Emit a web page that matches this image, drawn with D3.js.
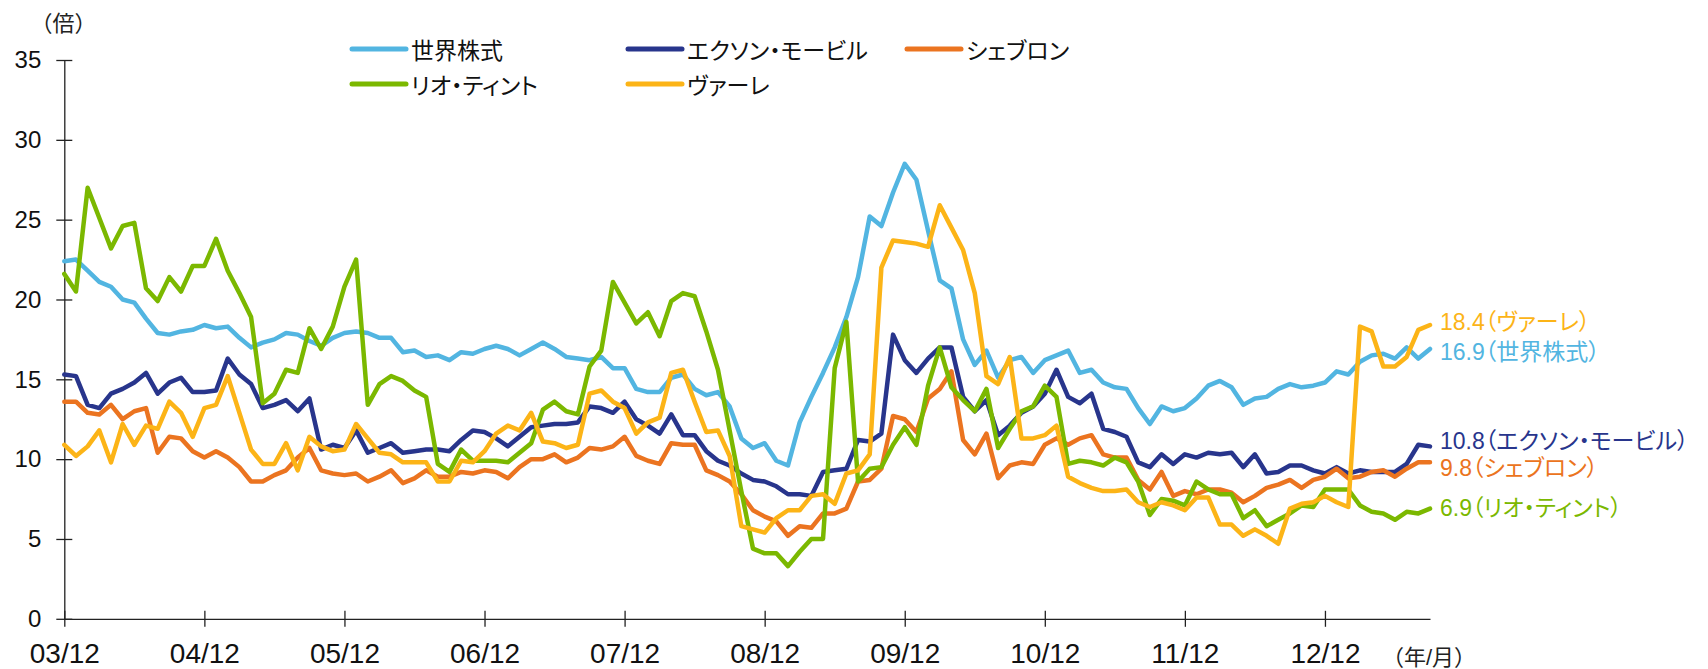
<!DOCTYPE html>
<html><head><meta charset="utf-8">
<script src="https://cdn.jsdelivr.net/npm/d3@7/dist/d3.min.js"></script>
<style>
html,body{margin:0;padding:0;background:#fff;}
svg text{font-family:"Liberation Sans",Arial,"Noto Sans CJK JP",sans-serif;}
.jp{font-feature-settings:"palt";font-family:"Liberation Sans","Noto Sans CJK JP",sans-serif;}
.jpw{font-family:"Liberation Sans","Noto Sans CJK JP",sans-serif;}
</style></head><body>
<svg id="chart" width="1708" height="669"></svg>
<script>
// ---- data (monthly, 2003/12 – 2013/09) ----
const startYear = 2003, startMonth = 12, nMonths = 118;
const tickLabels = ["03/12","04/12","05/12","06/12","07/12","08/12","09/12","10/12","11/12","12/12"];
const yTicks = [0,5,10,15,20,25,30,35];

const world = [22.4,22.5,21.8,21.1,20.8,20.0,19.8,18.8,17.9,17.8,18.0,18.1,18.4,18.2,18.3,17.6,17.0,17.3,17.5,17.9,17.8,17.4,17.1,17.6,17.9,
18.0,17.9,17.6,17.6,16.7,16.8,16.4,16.5,16.2,16.7,16.6,16.9,17.1,16.9,16.5,16.9,17.3,16.9,16.4,16.3,16.2,16.4,15.7,15.7,
14.4,14.2,14.2,15.1,15.3,14.4,14.0,14.2,13.3,11.3,10.7,11.0,9.9,9.6,12.3,13.9,15.4,17.0,18.9,21.4,25.2,24.6,26.7,28.5,27.5,
24.3,21.2,20.7,17.5,15.9,16.8,15.1,16.2,16.4,15.4,16.2,16.5,16.8,15.4,15.6,14.8,14.5,14.4,13.2,12.2,13.3,13.0,13.2,13.8,14.6,
14.9,14.5,13.4,13.8,13.9,14.4,14.7,14.5,14.6,14.8,15.5,15.3,16.1,16.5,16.6,16.3,17.0,16.3,16.9];

const exxon = [15.3,15.2,13.4,13.2,14.1,14.4,14.8,15.4,14.1,14.8,15.1,14.2,14.2,14.3,16.3,15.3,14.7,13.2,13.4,13.7,13.0,13.8,10.6,10.9,10.7,
11.8,10.4,10.7,11.0,10.4,10.5,10.6,10.6,10.5,11.2,11.8,11.7,11.3,10.8,11.4,12.0,12.1,12.2,12.2,12.3,13.3,13.2,12.9,13.6,
12.5,12.1,11.6,12.8,11.5,11.5,10.5,9.9,9.6,9.1,8.7,8.6,8.3,7.8,7.8,7.7,9.2,9.3,9.4,11.2,11.1,11.6,17.8,16.2,15.4,
16.3,17.0,17.0,13.9,13.0,13.7,11.5,12.1,12.9,13.3,14.1,15.6,13.9,13.5,14.1,11.9,11.7,11.4,9.8,9.5,10.3,9.7,10.3,10.1,10.4,
10.3,10.4,9.5,10.3,9.1,9.2,9.6,9.6,9.3,9.1,9.5,9.1,9.3,9.2,9.2,9.2,9.7,10.9,10.8];

const chevron = [13.6,13.6,12.9,12.8,13.4,12.5,13.0,13.2,10.4,11.4,11.3,10.5,10.1,10.5,10.1,9.5,8.6,8.6,9.0,9.3,10.1,10.7,9.3,9.1,9.0,
9.1,8.6,8.9,9.3,8.5,8.8,9.3,8.9,8.9,9.2,9.1,9.3,9.2,8.8,9.5,10.0,10.0,10.3,9.8,10.1,10.7,10.6,10.8,11.4,
10.2,9.9,9.7,11.0,10.9,10.9,9.3,9.0,8.6,7.8,6.8,6.4,6.1,5.2,5.8,5.7,6.6,6.6,6.9,8.6,8.7,9.4,12.7,12.5,11.7,
13.8,14.4,15.5,11.2,10.3,11.6,8.8,9.6,9.8,9.7,10.9,11.3,10.9,11.3,11.5,10.3,10.1,10.1,8.7,8.1,9.2,7.7,8.0,7.8,8.1,
8.1,7.9,7.3,7.7,8.2,8.4,8.7,8.2,8.7,8.9,9.4,8.8,8.9,9.2,9.3,8.9,9.4,9.8,9.8];

const rio = [21.6,20.5,27.0,25.1,23.2,24.6,24.8,20.7,19.9,21.4,20.5,22.1,22.1,23.8,21.8,20.4,18.9,13.5,14.1,15.6,15.4,18.2,16.9,18.3,20.8,
22.5,13.4,14.7,15.2,14.9,14.3,13.9,9.7,9.2,10.6,9.9,9.9,9.9,9.8,10.4,11.0,13.1,13.6,13.0,12.8,15.8,16.8,21.1,19.8,
18.5,19.2,17.7,19.9,20.4,20.2,18.0,15.6,11.8,8.0,4.4,4.1,4.1,3.3,4.2,5.0,5.0,15.7,18.6,8.6,9.4,9.5,10.9,12.0,10.9,
14.6,17.0,14.5,13.7,13.0,14.4,10.7,11.9,13.0,13.3,14.6,13.9,9.7,9.9,9.8,9.6,10.1,9.8,8.6,6.5,7.5,7.4,7.1,8.6,8.1,
7.8,7.8,6.3,6.8,5.8,6.2,6.6,7.1,7.0,8.1,8.1,8.1,7.1,6.7,6.6,6.2,6.7,6.6,6.9];

const vale = [10.9,10.2,10.8,11.8,9.8,12.2,10.9,12.1,11.9,13.6,12.9,11.4,13.2,13.4,15.2,12.9,10.6,9.7,9.7,11.0,9.3,11.4,10.8,10.5,10.6,
12.2,11.3,10.4,10.3,9.8,9.8,9.8,8.6,8.6,9.9,9.8,10.5,11.6,12.1,11.8,12.9,11.1,11.0,10.7,10.9,14.1,14.3,13.6,13.2,
11.6,12.3,12.6,15.4,15.6,13.6,11.7,11.8,10.2,5.8,5.6,5.4,6.3,6.8,6.8,7.7,7.8,7.2,9.1,9.3,10.3,22.0,23.7,23.6,23.5,
23.3,25.9,24.5,23.1,20.4,15.2,14.7,16.4,11.3,11.3,11.5,12.1,8.9,8.5,8.2,8.0,8.0,8.1,7.3,7.0,7.3,7.1,6.8,7.6,7.6,
5.9,5.9,5.2,5.6,5.2,4.7,6.9,7.2,7.3,7.7,7.3,7.0,18.3,18.0,15.8,15.8,16.4,18.1,18.4];

const seriesNames = ["世界株式","エクソン・モービル","シェブロン","リオ・ティント","ヴァーレ"];
const seriesValues = [world, exxon, chevron, rio, vale];
const seriesColors = ["#52b5e1","#28358c","#eb7420","#7bb800","#fcb417"];

// ---- month categories ----
const months = [];
for (let k = 0; k < nMonths; k++) {
  const m0 = startMonth - 1 + k;
  const yy = startYear + Math.floor(m0 / 12), mm = (m0 % 12) + 1;
  months.push(String(yy % 100).padStart(2,"0") + "/" + String(mm).padStart(2,"0"));
}

const svg = d3.select("#chart");
const x = d3.scaleLinear().domain([0, nMonths - 1]).range([64.3, 1430]);
const y = d3.scaleLinear().domain([0, 35]).range([618.8, 60]);

// y axis
const gy = svg.append("g").attr("transform","translate(64.3,0)")
  .call(d3.axisLeft(y).tickValues(yTicks).tickSize(8).tickSizeOuter(0).tickPadding(15));
gy.select(".domain").attr("stroke","#222").attr("stroke-width",1.3);
gy.selectAll(".tick line").attr("x1",8).attr("stroke","#222").attr("stroke-width",1.3);
gy.selectAll(".tick text").attr("font-size",24).attr("fill","#111")
  .style("font-family","'Liberation Sans',Arial,sans-serif");

// x axis
const tickIdx = tickLabels.map(t => months.indexOf(t));
const gx = svg.append("g").attr("transform","translate(0,618.8)")
  .call(d3.axisBottom(x).tickValues(tickIdx).tickFormat(i => months[i]).tickSize(8).tickSizeOuter(0));
gx.select(".domain").attr("stroke","#222").attr("stroke-width",1.3);
gx.selectAll(".tick line").attr("y1",-8).attr("stroke","#222").attr("stroke-width",1.3);
gx.selectAll(".tick text").attr("font-size",28).attr("fill","#111").attr("y",24.5)
  .style("font-family","'Liberation Sans',Arial,sans-serif");

// unit labels
svg.append("text").attr("class","jpw").attr("x",63.5).attr("y",31).attr("text-anchor","middle")
  .attr("font-size",22).attr("fill","#222").text("（倍）");
svg.append("text").attr("class","jpw").attr("x",1382).attr("y",664.5).attr("text-anchor","start")
  .attr("font-size",22).attr("fill","#222").text("（年/月）");

// lines
const line = d3.line().x((d,i) => x(i)).y(d => y(d));
seriesValues.forEach((vals, s) => {
  svg.append("path").datum(vals).attr("d", line)
    .attr("fill","none").attr("stroke",seriesColors[s]).attr("stroke-width",4.5)
    .attr("stroke-linejoin","round").attr("stroke-linecap","round");
});

// legend
const legendPos = [[352,49],[628,49],[907,49],[352,84],[628,84]];
seriesNames.forEach((n, s) => {
  const [lx, ly] = legendPos[s];
  svg.append("line").attr("x1",lx).attr("x2",lx+54).attr("y1",ly).attr("y2",ly)
    .attr("stroke",seriesColors[s]).attr("stroke-width",5).attr("stroke-linecap","round");
  svg.append("text").attr("class","jp").attr("x",lx+59).attr("y",ly+10)
    .attr("font-size",23).attr("fill","#111").text(n);
});

// end labels
const labelDy = [2.6, -5.6, 5.4, -1, -3.4];
seriesValues.forEach((vals, s) => {
  const last = vals[vals.length - 1];
  const t = svg.append("text").attr("class","jp").attr("x",1440)
    .attr("y", y(last) + labelDy[s] + 8.3).attr("font-size",23).attr("fill",seriesColors[s]);
  t.append("tspan").text(last.toFixed(1));
  t.append("tspan").text("（" + seriesNames[s] + "）");
});
</script>
</body></html>
